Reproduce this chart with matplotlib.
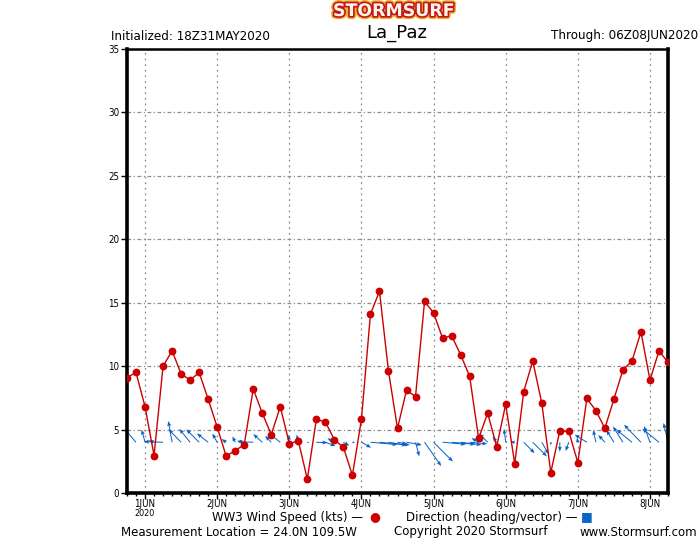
import numpy as np
import matplotlib
matplotlib.use("Agg")
import matplotlib.pyplot as plt
import matplotlib.patheffects as pe
from matplotlib.ticker import MultipleLocator

# WW3 wind speed (kts), every 3 hours from 18Z31MAY2020 to 06Z08JUN2020
speed = [9.1, 9.5, 6.8, 2.95, 10.0, 11.2, 9.4, 8.9, 9.5, 7.4,
         5.2, 2.9, 3.35, 3.8, 8.2, 6.3, 4.6, 6.8, 3.9, 4.1,
         1.1, 5.8, 5.6, 4.2, 3.6, 1.4, 5.8, 14.1, 15.9, 9.6,
         5.1, 8.1, 7.6, 15.1, 14.2, 12.2, 12.4, 10.9, 9.2, 4.3,
         6.3, 3.65, 7.0, 2.3, 8.0, 10.4, 7.1, 1.6, 4.9, 4.85,
         2.4, 7.45, 6.5, 5.1, 7.4, 9.7, 10.4, 12.7, 8.9, 11.2, 10.3]

# wind heading (deg, direction the wind blows toward)
heading = [300, 319, 345, 290, 272, 350, 316, 321, 315, 308,
           331, 305, 335, 280, 272, 312, 316, 308, 355, 348,
           100, 92, 110, 300, 120, 100, 119, 95, 95, 100,
           100, 100, 165, 145, 135, 95, 95, 97, 95, 300,
           316, 325, 353, 275, 135, 135, 150, 180, 180, 200,
           350, 302, 348, 318, 328, 328, 309, 316, 340, 309, 347]

day_labels = ['1JUN', '2JUN', '3JUN', '4JUN', '5JUN', '6JUN', '7JUN', '8JUN']
start_day = -0.25   # 18Z31MAY relative to 00Z1JUN
step_day = 0.125    # 3 hourly

RED = '#cc0000'
BLUE = '#0a64c8'

t = start_day + step_day * np.arange(len(speed))
spd = np.array(speed)
rad = np.deg2rad(heading)
u = spd * np.sin(rad)
v = spd * np.cos(rad)

fig = plt.figure(figsize=(7, 5.4), dpi=100)
ax = fig.add_axes([127/700, 47/540, 541/700, 444/540])

ax.plot(t, spd, color=RED, lw=1.0, marker='o', ms=4.6, mec=RED, mfc=RED, zorder=3)
ax.quiver(t, np.full(len(t), 4.0), u, v, angles='uv', scale_units='dots', scale=0.52,
          units='dots', width=1.0, headwidth=4, headlength=5, headaxislength=4.5,
          minlength=0.3, color=BLUE, zorder=2)

ax.set_xlim(start_day, start_day + step_day * (len(speed) - 1))
ax.set_ylim(0, 35)
ax.yaxis.set_major_locator(MultipleLocator(5))
ax.set_xticks(np.arange(len(day_labels)))
ax.set_xticklabels(day_labels)
ax.xaxis.set_minor_locator(MultipleLocator(step_day))

ax.grid(axis='x', color='#8c8c8c', lw=0.9, linestyle=(0, (1.5, 3)))
ax.grid(axis='y', color='#8c8c8c', lw=0.9, linestyle=(0, (3, 2, 1, 2)))
ax.set_axisbelow(True)

for side in ['left', 'bottom', 'right']:
    ax.spines[side].set_linewidth(2.6)
ax.spines['top'].set_linewidth(1.8)

ax.tick_params(axis='both', which='major', direction='out', length=4, width=1,
               labelsize=7, pad=1.5)
ax.tick_params(axis='x', which='major', pad=0.5)
ax.tick_params(axis='x', which='minor', direction='out', length=2.5, width=1)
for lab in ax.get_xticklabels() + ax.get_yticklabels():
    lab.set_fontstretch('condensed')

top = dict(fontsize=9.5, fontstretch='condensed', color='black')
bot = dict(fontsize=8.5, color='black')
fig.text(145/700, 1 - 514/540, '2020', ha='center', va='center', fontsize=6.5,
         fontstretch='condensed')
fig.text(111/700, 1 - 36/540, 'Initialized: 18Z31MAY2020', ha='left', va='center', **top)
fig.text(698/700, 1 - 36/540, 'Through: 06Z08JUN2020', ha='right', va='center', **top)
fig.text(397/700, 1 - 33/540, 'La_Paz', ha='center', va='center', fontsize=13)

logo = fig.text(394/700, 1 - 11/540, 'STORMSURF', ha='center', va='center',
                fontsize=12.5, fontweight='bold', color='#fff4ec')
logo.set_path_effects([pe.Stroke(linewidth=4.5, foreground='#f0b030'),
                       pe.Stroke(linewidth=2.4, foreground='#c01818'),
                       pe.Normal()])

fig.text(363/700, 1 - 517/540, 'WW3 Wind Speed (kts) \u2014', ha='right', va='center', **bot)
fig.text(375/700, 1 - 517/540, '\u25cf', ha='center', va='center', fontsize=9, color=RED)
fig.text(577/700, 1 - 517/540, 'Direction (heading/vector) \u2014', ha='right', va='center', **bot)
fig.text(587/700, 1 - 517/540, '\u25a0', ha='center', va='center', fontsize=9, color=BLUE)

fig.text(121/700, 1 - 532/540, 'Measurement Location = 24.0N 109.5W', ha='left', va='center', **bot)
fig.text(394/700, 1 - 532/540, 'Copyright 2020 Stormsurf', ha='left', va='center', **bot)
fig.text(697/700, 1 - 532/540, 'www.Stormsurf.com', ha='right', va='center', **bot)

fig.savefig('out.png', dpi=100)
